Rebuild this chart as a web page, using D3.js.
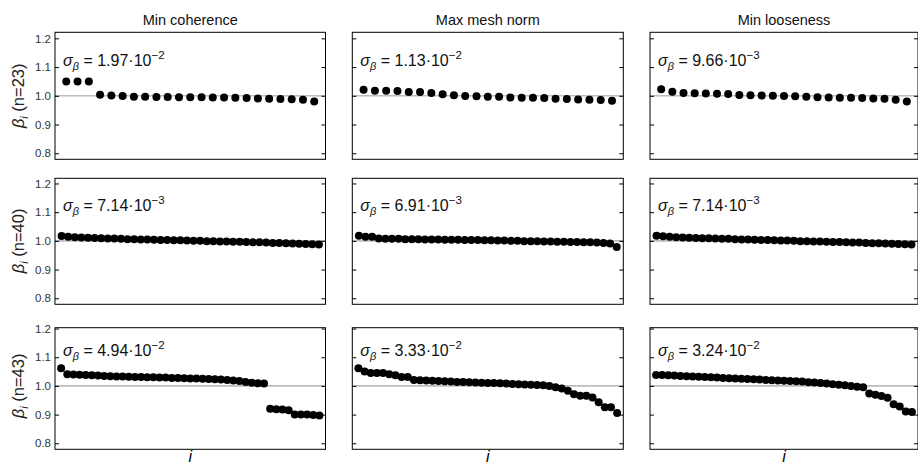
<!DOCTYPE html>
<html>
<head>
<meta charset="utf-8">
<script src="https://cdn.jsdelivr.net/npm/d3@7"></script>
<style>
  body { margin: 0; background: #fff; }
  svg { font-family: "Liberation Sans", Arial, sans-serif; }
</style>
</head>
<body>
<svg id="chart" width="918" height="465"></svg>
<script>
// column titles + row sample sizes
const methods = ["Min coherence", "Max mesh norm", "Min looseness"];
const sizes = [23, 40, 43];
const yTicks = [0.8, 0.9, 1.0, 1.1, 1.2];

// sigma labels [row][col]
const sigmas = [
    [["1.97", "−2"], ["1.13", "−2"], ["9.66", "−3"]],
    [["7.14", "−3"], ["6.91", "−3"], ["7.14", "−3"]],
    [["4.94", "−2"], ["3.33", "−2"], ["3.24", "−2"]]
];

// beta values, n = 23
const coh23 = [1.050, 1.050, 1.050, 1.004, 1.001, 0.999, 0.997, 0.997, 0.996, 0.996, 0.995, 0.995,
    0.995, 0.994, 0.994, 0.993, 0.992, 0.991, 0.990, 0.989, 0.988, 0.986, 0.980];
const mesh23 = [1.021, 1.018, 1.018, 1.017, 1.013, 1.013, 1.010, 1.005, 1.002, 0.999, 0.998, 0.997,
    0.997, 0.994, 0.993, 0.993, 0.992, 0.990, 0.989, 0.987, 0.986, 0.985, 0.983];
const loose23 = [1.023, 1.014, 1.010, 1.009, 1.008, 1.007, 1.006, 1.003, 1.002, 1.001, 1.000, 0.999,
    0.998, 0.997, 0.995, 0.994, 0.993, 0.993, 0.992, 0.991, 0.990, 0.986, 0.980];

// n = 40
const coh40 = [1.017, 1.014, 1.013, 1.012, 1.011, 1.010, 1.009, 1.008, 1.008, 1.007, 1.006, 1.006,
    1.005, 1.005, 1.004, 1.003, 1.003, 1.002, 1.002, 1.001, 1.000, 1.000, 0.999, 0.999, 0.998, 0.998,
    0.997, 0.997, 0.996, 0.995, 0.995, 0.994, 0.993, 0.993, 0.992, 0.991, 0.990, 0.989, 0.988, 0.987];
const mesh40 = [1.018, 1.014, 1.014, 1.008, 1.007, 1.007, 1.007, 1.006, 1.006, 1.006, 1.005, 1.005,
    1.005, 1.004, 1.004, 1.004, 1.003, 1.003, 1.003, 1.002, 1.002, 1.001, 1.001, 1.000, 1.000, 0.999,
    0.999, 0.999, 0.998, 0.998, 0.997, 0.997, 0.996, 0.996, 0.995, 0.995, 0.994, 0.993, 0.991, 0.979];
const loose40 = [1.018, 1.016, 1.014, 1.013, 1.012, 1.011, 1.010, 1.009, 1.009, 1.008, 1.007, 1.007,
    1.006, 1.005, 1.005, 1.004, 1.003, 1.003, 1.002, 1.001, 1.001, 1.000, 0.999, 0.999, 0.998, 0.998,
    0.997, 0.996, 0.996, 0.995, 0.994, 0.994, 0.993, 0.992, 0.992, 0.991, 0.990, 0.989, 0.988, 0.987];

// n = 43
const coh43 = [1.062, 1.041, 1.040, 1.039, 1.038, 1.037, 1.036, 1.035, 1.034, 1.033, 1.033, 1.032,
    1.031, 1.031, 1.030, 1.030, 1.029, 1.029, 1.028, 1.028, 1.027, 1.026, 1.026, 1.025, 1.024, 1.023,
    1.022, 1.021, 1.019, 1.017, 1.014, 1.011, 1.009, 1.008, 0.920, 0.919, 0.918, 0.915, 0.900, 0.900,
    0.900, 0.899, 0.897];
const mesh43 = [1.062, 1.050, 1.045, 1.045, 1.045, 1.041, 1.037, 1.031, 1.031, 1.021, 1.020, 1.019,
    1.018, 1.017, 1.016, 1.015, 1.014, 1.014, 1.013, 1.012, 1.011, 1.010, 1.010, 1.009, 1.008, 1.007,
    1.006, 1.005, 1.004, 1.003, 1.002, 1.000, 0.995, 0.991, 0.983, 0.971, 0.966, 0.966, 0.960, 0.943,
    0.926, 0.926, 0.906];
const loose43 = [1.038, 1.038, 1.037, 1.036, 1.035, 1.034, 1.033, 1.032, 1.031, 1.030, 1.029, 1.028,
    1.027, 1.026, 1.025, 1.024, 1.023, 1.022, 1.021, 1.020, 1.019, 1.018, 1.017, 1.016, 1.015, 1.013,
    1.012, 1.010, 1.008, 1.006, 1.004, 1.002, 1.000, 0.997, 0.995, 0.974, 0.969, 0.965, 0.959, 0.936,
    0.928, 0.911, 0.909];

const grid = [
    [coh23, mesh23, loose23],
    [coh40, mesh40, loose40],
    [coh43, mesh43, loose43]
];

// panel geometry
const colLeft = [55, 352.3, 650];
const colWidth = [270.5, 271, 268];
const rowTop = [32.3, 178.3, 327.7];
const rowBottom = [159.3, 304.3, 449.3];
const rowYmax = [1.221, 1.218, 1.203];
const yMin = 0.779;

const svg = d3.select("#chart");

sizes.forEach((n, r) => {
    const y = d3.scaleLinear().domain([yMin, rowYmax[r]]).range([rowBottom[r], rowTop[r]]);

    // y label, left column only
    const yl = svg.append("text")
        .attr("transform", `translate(24,${y(1.0)}) rotate(-90)`)
        .attr("text-anchor", "middle")
        .style("font-size", "16.5px")
        .style("fill", "#222");
    yl.append("tspan").style("font-style", "italic").text("β");
    yl.append("tspan").attr("dy", 4).style("font-style", "italic").style("font-size", "11px").text("i");
    yl.append("tspan").attr("dy", -4).text(" (n=" + n + ")");

    methods.forEach((m, c) => {
        const x = d3.scaleLinear().domain([0, n + 1]).range([colLeft[c], colLeft[c] + colWidth[c]]);
        const g = svg.append("g");

        // reference line at 1
        g.append("line")
            .attr("x1", x.range()[0]).attr("x2", x.range()[1])
            .attr("y1", y(1)).attr("y2", y(1))
            .style("stroke", "#bdbdbd")
            .style("stroke-width", 1.6);

        // inward ticks on both sides
        g.append("g")
            .attr("transform", `translate(${x.range()[0]},0)`)
            .call(d3.axisRight(y).tickValues(yTicks).tickSize(4).tickFormat(""))
            .call(a => a.select(".domain").remove());
        g.append("g")
            .attr("transform", `translate(${x.range()[1]},0)`)
            .call(d3.axisLeft(y).tickValues(yTicks).tickSize(4).tickFormat(""))
            .call(a => a.select(".domain").remove());

        if (c === 0) {
            g.append("g")
                .attr("transform", `translate(${x.range()[0]},0)`)
                .call(d3.axisLeft(y).tickValues(yTicks).tickSize(0).tickPadding(4).tickFormat(d3.format(".1f")))
                .call(a => a.select(".domain").remove())
                .call(a => a.selectAll("text").style("font-size", "11.5px").style("fill", "#333")
                    .style("font-family", "'Liberation Sans', Arial, sans-serif"));
        }

        // frame
        g.append("rect")
            .attr("x", x.range()[0]).attr("y", rowTop[r])
            .attr("width", colWidth[c]).attr("height", rowBottom[r] - rowTop[r])
            .style("fill", "none").style("stroke", "#000").style("stroke-width", 1);

        // dots
        g.selectAll("circle")
            .data(grid[r][c])
            .join("circle")
            .attr("cx", (d, i) => x(i + 1))
            .attr("cy", d => y(d))
            .attr("r", 4)
            .style("fill", "#000");

        // sigma annotation
        const s = sigmas[r][c];
        const t = g.append("text")
            .attr("x", x.range()[0] + 8)
            .attr("y", y(1.125) + 6)
            .style("font-size", "16px")
            .style("fill", "#111");
        t.append("tspan").style("font-style", "italic").text("σ");
        t.append("tspan").attr("dy", 4).style("font-style", "italic").style("font-size", "11px").text("β");
        t.append("tspan").attr("dy", -4).text(" = " + s[0] + "·10");
        t.append("tspan").attr("dy", -7).style("font-size", "11.5px").text(s[1]);

        if (r === 0) {
            svg.append("text")
                .attr("x", (x.range()[0] + x.range()[1]) / 2)
                .attr("y", 25)
                .attr("text-anchor", "middle")
                .style("font-size", "14.5px")
                .style("fill", "#111")
                .text(m);
        }
        if (r === 2) {
            svg.append("text")
                .attr("x", (x.range()[0] + x.range()[1]) / 2)
                .attr("y", 462)
                .attr("text-anchor", "middle")
                .style("font-size", "16px")
                .style("font-style", "italic")
                .text("i");
        }
    });
});
</script>
</body>
</html>
